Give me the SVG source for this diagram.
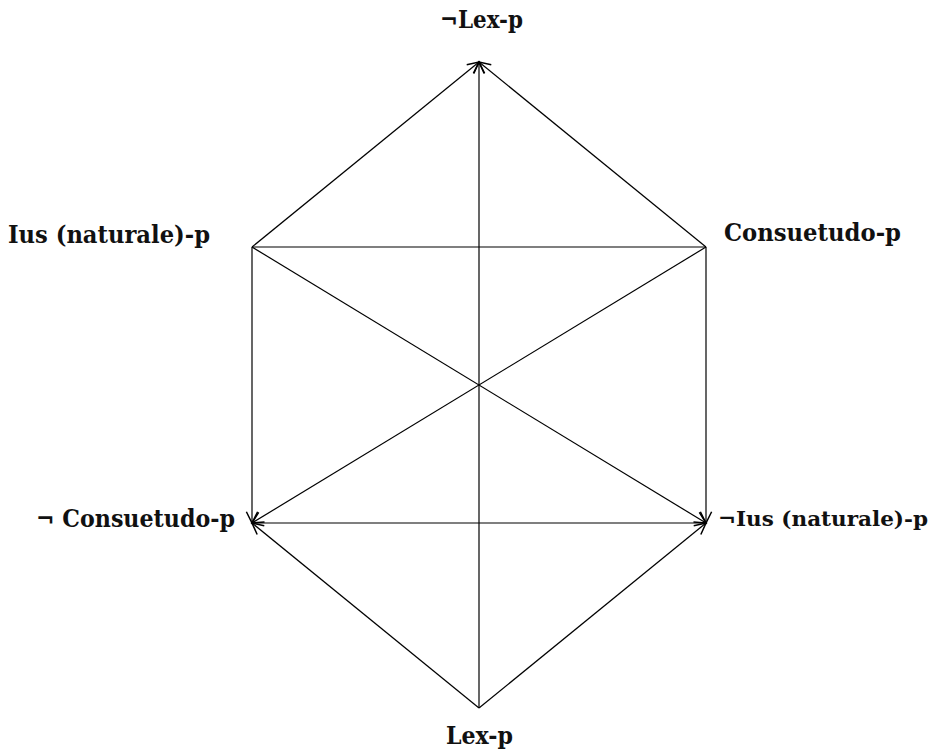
<svg xmlns="http://www.w3.org/2000/svg" width="937" height="749" viewBox="0 0 937 749">
<style>
.lbl{font-family:"DejaVu Serif","Liberation Serif",serif;font-weight:bold;font-size:24px;fill:#111}
.e{stroke:#000;stroke-width:1.2;fill:none}
.a{marker-end:url(#arr)}
</style>
<defs>
<marker id="arr" markerUnits="userSpaceOnUse" markerWidth="20" markerHeight="20" viewBox="-12 -8 16 16" refX="0" refY="0" orient="auto">
<path d="M -9 -4.5 L 0 0 L -9 4.5" fill="none" stroke="#000" stroke-width="1.2"/>
</marker>
</defs>
<rect width="937" height="749" fill="#fff"/>
<g id="connectors">
<line class="e a" x1="252" y1="247" x2="479" y2="62"/>
<line class="e a" x1="706" y1="247" x2="479" y2="62"/>
<line class="e a" x1="479" y1="708" x2="479" y2="62"/>
<line class="e" x1="252" y1="247" x2="706" y2="247"/>
<line class="e a" x1="252" y1="247" x2="252" y2="523"/>
<line class="e a" x1="706" y1="247" x2="706" y2="523"/>
<line class="e a" x1="252" y1="247" x2="706" y2="523"/>
<line class="e a" x1="706" y1="247" x2="252" y2="523"/>
<line class="e a" x1="479" y1="708" x2="252" y2="523"/>
<line class="e a" x1="479" y1="708" x2="706" y2="523"/>
<line class="e" x1="252" y1="523" x2="706" y2="523"/>
</g>
<g id="n-top"><text class="lbl" x="440" y="28" textLength="83" lengthAdjust="spacingAndGlyphs">¬Lex-p</text></g>
<g id="n-lu"><text class="lbl" x="8" y="243" textLength="202" lengthAdjust="spacingAndGlyphs">Ius (naturale)-p</text></g>
<g id="n-ru"><text class="lbl" x="724" y="241" textLength="177" lengthAdjust="spacingAndGlyphs">Consuetudo-p</text></g>
<g id="n-ll"><text class="lbl" x="36" y="527" textLength="199" lengthAdjust="spacingAndGlyphs">¬ Consuetudo-p</text></g>
<g id="n-rl"><text class="lbl" x="718" y="526" textLength="210" lengthAdjust="spacingAndGlyphs" style="font-size:21px">¬Ius (naturale)-p</text></g>
<g id="n-bottom"><text class="lbl" x="446" y="744" textLength="67" lengthAdjust="spacingAndGlyphs">Lex-p</text></g>
</svg>
